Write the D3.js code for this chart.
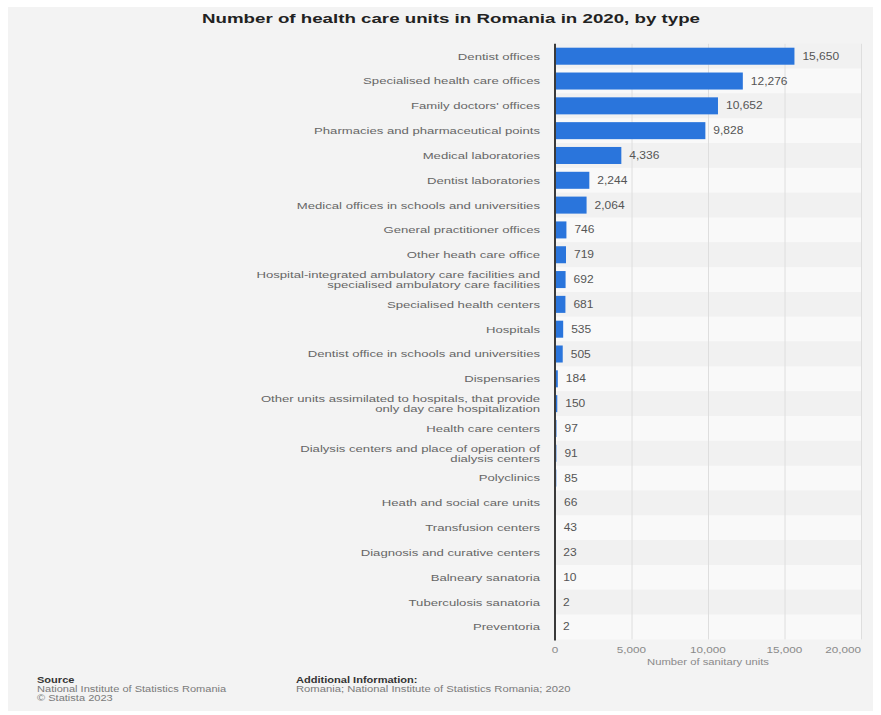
<!DOCTYPE html>
<html>
<head>
<meta charset="utf-8">
<script src="https://cdn.jsdelivr.net/npm/d3@7"></script>
<style>
  html, body { margin: 0; padding: 0; background: #ffffff; }
  svg { display: block; }
  text { font-family: "Liberation Sans", Arial, sans-serif; }
</style>
</head>
<body>
<svg id="chart" width="881" height="715"></svg>
<script>
const categories = [
  "Dentist offices",
  "Specialised health care offices",
  "Family doctors' offices",
  "Pharmacies and pharmaceutical points",
  "Medical laboratories",
  "Dentist laboratories",
  "Medical offices in schools and universities",
  "General practitioner offices",
  "Other heath care office",
  "Hospital-integrated ambulatory care facilities and\nspecialised ambulatory care facilities",
  "Specialised health centers",
  "Hospitals",
  "Dentist office in schools and universities",
  "Dispensaries",
  "Other units assimilated to hospitals, that provide\nonly day care hospitalization",
  "Health care centers",
  "Dialysis centers and place of operation of\ndialysis centers",
  "Polyclinics",
  "Heath and social care units",
  "Transfusion centers",
  "Diagnosis and curative centers",
  "Balneary sanatoria",
  "Tuberculosis sanatoria",
  "Preventoria"
];
const values = [15650, 12276, 10652, 9828, 4336, 2244, 2064, 746, 719, 692, 681, 535, 505, 184, 150, 97, 91, 85, 66, 43, 23, 10, 2, 2];
const xTicks = [0, 5000, 10000, 15000, 20000];
const title = "Number of health care units in Romania in 2020, by type";
const xAxisTitle = "Number of sanitary units";

const svg = d3.select("#chart");

function stretchNode(n, factor) {
  const l = n.getComputedTextLength();
  if (l > 0) {
    n.setAttribute("textLength", (l * factor).toFixed(2));
    n.setAttribute("lengthAdjust", "spacingAndGlyphs");
  }
  return l * factor;
}

// panel
svg.append("rect").attr("x", 8).attr("y", 7).attr("width", 865).attr("height", 704).attr("fill", "#f3f3f3");

const x = d3.scaleLinear().domain([0, 20000]).range([555, 861]);
const y = d3.scaleBand().domain(categories).range([43.8, 639.4]).paddingInner(0).paddingOuter(0);
const barPad = 3.9;

// row bands
svg.append("g").selectAll("rect").data(categories).join("rect")
  .attr("x", x(0)).attr("y", d => y(d))
  .attr("width", x(20000) - x(0) + 1).attr("height", y.bandwidth())
  .attr("fill", (d, i) => i % 2 === 0 ? "#f1f1f1" : "#f9f9f9");

// gridlines
svg.append("g").selectAll("line").data(xTicks.filter(t => t > 0)).join("line")
  .attr("x1", d => x(d) + 0.5).attr("x2", d => x(d) + 0.5)
  .attr("y1", y.range()[0]).attr("y2", y.range()[1])
  .attr("stroke", "#dedede").attr("stroke-width", 1);

// bars
svg.append("g").selectAll("rect").data(values).join("rect")
  .attr("x", x(0)).attr("y", (d, i) => y(categories[i]) + barPad)
  .attr("width", d => Math.max(0, x(d) - x(0))).attr("height", y.bandwidth() - 2 * barPad)
  .attr("fill", "#2a75dc");

// axis line
svg.append("line").attr("x1", x(0)).attr("x2", x(0))
  .attr("y1", y.range()[0]).attr("y2", y.range()[1] + 1)
  .attr("stroke", "#3a3a3a").attr("stroke-width", 2);

// value labels
svg.append("g").selectAll("text").data(values).join("text")
  .attr("x", d => x(d) + 8)
  .attr("y", (d, i) => y(categories[i]) + y.bandwidth() / 2 + 3.5)
  .attr("font-size", 10).attr("fill", "#555")
  .text(d => d3.format(",")(d))
  .each(function() { stretchNode(this, 1.2); });

// category labels
const clab = svg.append("g").selectAll("text").data(categories).join("text")
  .attr("text-anchor", "end")
  .attr("font-size", 9.5).attr("fill", "#666")
  .each(function(d) {
    const lines = d.split("\n");
    const t = d3.select(this);
    const cy = y(d) + y.bandwidth() / 2 + 3.4;
    const lh = 9.8;
    lines.forEach((ln, k) => {
      t.append("tspan").attr("x", 540)
        .attr("y", cy + (k - (lines.length - 1) / 2) * lh)
        .text(ln);
    });
  });
clab.selectAll("tspan").each(function() { stretchNode(this, 1.38); });

// x tick labels
svg.append("g").selectAll("text").data(xTicks).join("text")
  .attr("y", 652.5)
  .attr("font-size", 9).attr("fill", "#8a8a8a")
  .text(d => d3.format(",")(d))
  .each(function(d, i) {
    const w = stretchNode(this, 1.3);
    const last = i === xTicks.length - 1;
    this.setAttribute("x", last ? x(d) - w : x(d) - w / 2);
  });

// x axis title
const xat = svg.append("text").attr("y", 665).attr("font-size", 9).attr("fill", "#8a8a8a").text(xAxisTitle);
{
  const w = stretchNode(xat.node(), 1.25);
  xat.attr("x", (x(0) + x(20000)) / 2 - w / 2);
}

// title
const tt = svg.append("text").attr("y", 23).attr("font-size", 13.5).attr("font-weight", "bold").attr("fill", "#222").text(title);
{
  const n = tt.node(); const l = 498;
  n.setAttribute("textLength", l); n.setAttribute("lengthAdjust", "spacingAndGlyphs");
  n.setAttribute("x", 451 - l / 2);
}

// footer
function footText(txt, xx, yy, bold, color, factor) {
  const t = svg.append("text").attr("x", xx).attr("y", yy).attr("font-size", 8.5)
    .attr("font-weight", bold ? "bold" : "normal").attr("fill", color).text(txt);
  stretchNode(t.node(), factor);
  return t;
}
footText("Source", 37, 683, true, "#333", 1.3);
footText("National Institute of Statistics Romania", 37, 692, false, "#7a7a7a", 1.3);
footText("© Statista 2023", 37, 701, false, "#7a7a7a", 1.3);
footText("Additional Information:", 296, 683, true, "#333", 1.3);
footText("Romania; National Institute of Statistics Romania; 2020", 296, 692, false, "#7a7a7a", 1.32);
</script>
</body>
</html>
